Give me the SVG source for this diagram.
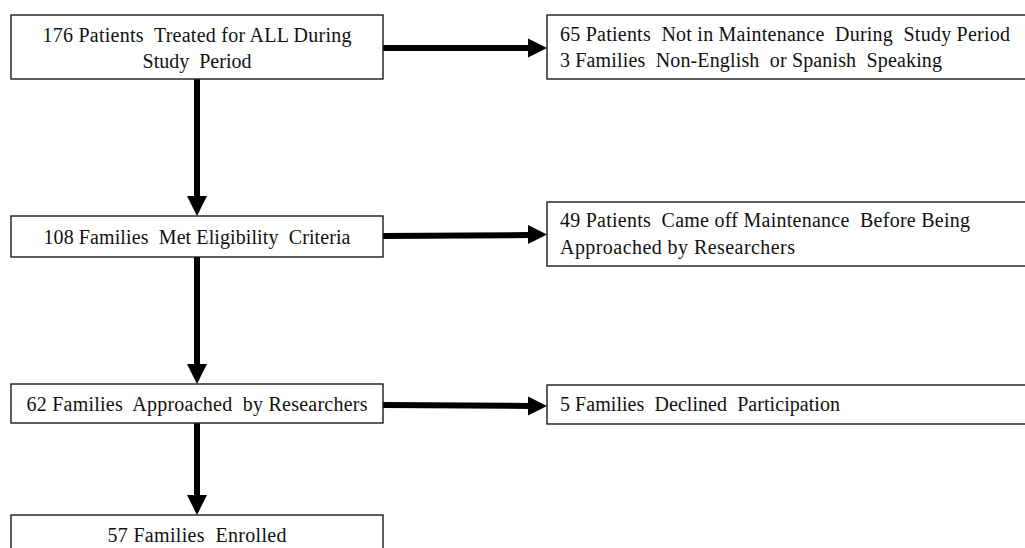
<svg xmlns="http://www.w3.org/2000/svg" width="1025" height="548" viewBox="0 0 1025 548">
<style>
.box{fill:#fff;stroke:#1a1a1a;stroke-width:1.4}
.t{font-family:"Liberation Serif","Times New Roman",serif;font-size:20px;fill:#111;white-space:pre}
.c{text-anchor:middle}
.shaft{stroke:#000;stroke-width:6;fill:none}
.head{fill:#000}
</style>
<rect width="1025" height="548" fill="#fff"/>
<g id="connectors">
  <line class="shaft" x1="383" y1="48" x2="530" y2="48"/>
  <polygon class="head" points="528,38.5 547,48 528,57.5"/>
  <line class="shaft" x1="383" y1="236" x2="530" y2="235"/>
  <polygon class="head" points="528,225 547,234.5 528,244"/>
  <line class="shaft" x1="383" y1="405" x2="530" y2="406"/>
  <polygon class="head" points="528,396.5 547,406 528,415.5"/>
  <line class="shaft" x1="197" y1="79" x2="197" y2="198"/>
  <polygon class="head" points="187,196 207,196 197,216"/>
  <line class="shaft" x1="197" y1="257" x2="197" y2="366"/>
  <polygon class="head" points="187,364 207,364 197,384"/>
  <line class="shaft" x1="197" y1="423" x2="197" y2="497"/>
  <polygon class="head" points="187,495 207,495 197,515"/>
</g>
<g id="n1">
  <rect class="box" x="11" y="15" width="372" height="64"/>
  <text class="t c" x="197" y="42" xml:space="preserve" textLength="309" lengthAdjust="spacing">176 Patients  Treated for ALL During</text>
  <text class="t c" x="197" y="68" xml:space="preserve">Study  Period</text>
</g>
<g id="r1">
  <rect class="box" x="547" y="15" width="490" height="64"/>
  <text class="t" x="560" y="41" xml:space="preserve" textLength="450" lengthAdjust="spacing">65 Patients  Not in Maintenance  During  Study Period</text>
  <text class="t" x="560" y="67" xml:space="preserve" textLength="382" lengthAdjust="spacing">3 Families  Non-English  or Spanish  Speaking</text>
</g>
<g id="n2">
  <rect class="box" x="11" y="216" width="372" height="41"/>
  <text class="t c" x="197" y="244" xml:space="preserve" textLength="307" lengthAdjust="spacing">108 Families  Met Eligibility  Criteria</text>
</g>
<g id="r2">
  <rect class="box" x="547" y="202" width="490" height="64"/>
  <text class="t" x="560" y="227" xml:space="preserve" textLength="410" lengthAdjust="spacing">49 Patients  Came off Maintenance  Before Being</text>
  <text class="t" x="560" y="254" xml:space="preserve" textLength="235" lengthAdjust="spacing">Approached by Researchers</text>
</g>
<g id="n3">
  <rect class="box" x="11" y="384" width="372" height="39"/>
  <text class="t c" x="197" y="411" xml:space="preserve" textLength="341" lengthAdjust="spacing">62 Families  Approached  by Researchers</text>
</g>
<g id="r3">
  <rect class="box" x="547" y="385" width="490" height="39"/>
  <text class="t" x="560" y="411" xml:space="preserve" textLength="280" lengthAdjust="spacing">5 Families  Declined  Participation</text>
</g>
<g id="n4">
  <rect class="box" x="11" y="515" width="372" height="60"/>
  <text class="t c" x="197" y="542" xml:space="preserve" textLength="179" lengthAdjust="spacing">57 Families  Enrolled</text>
</g>
</svg>
